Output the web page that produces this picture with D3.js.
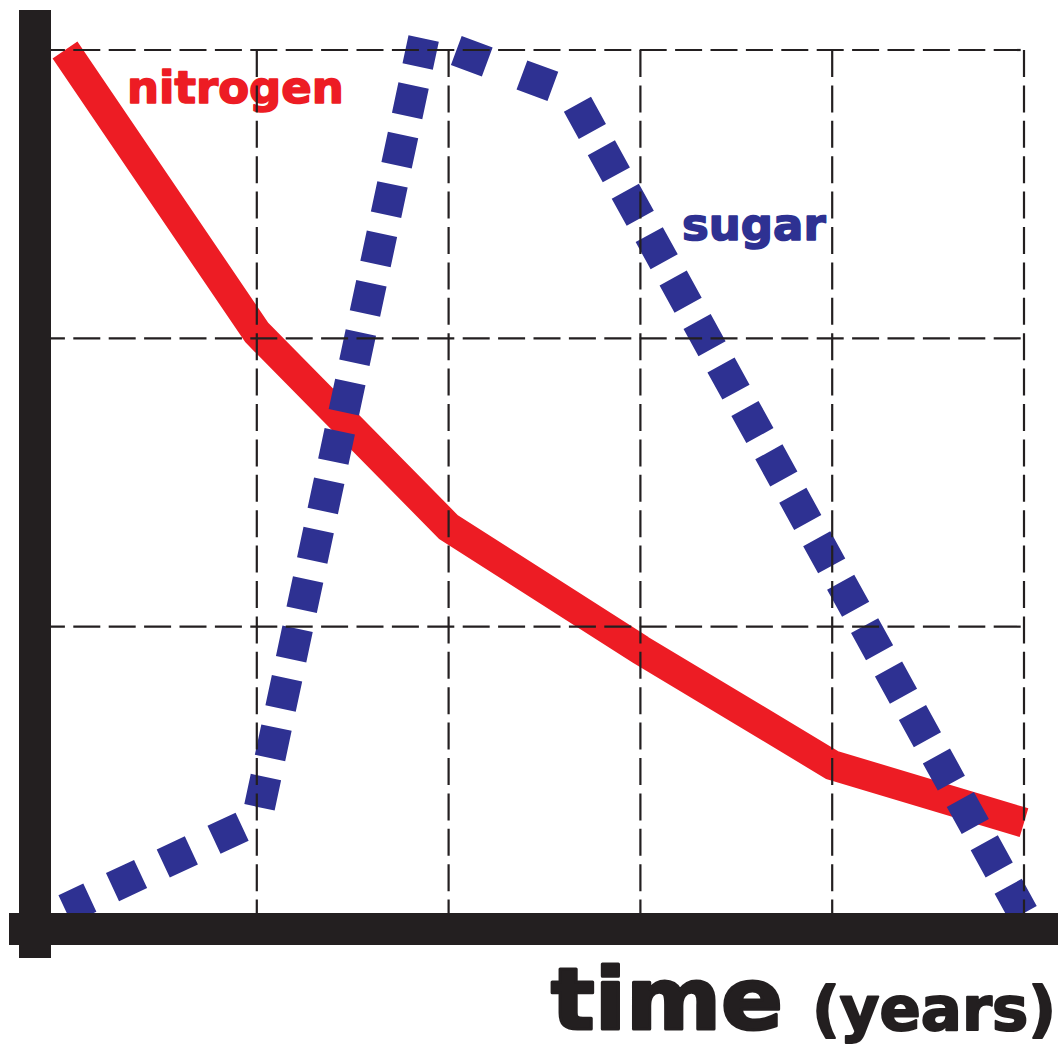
<!DOCTYPE html>
<html>
<head>
<meta charset="utf-8">
<script src="https://cdn.jsdelivr.net/npm/d3@7"></script>
<style>
  html, body { margin: 0; padding: 0; background: #fff; }
  svg { display: block; }
</style>
</head>
<body>
<svg id="chart" width="1060" height="1049"></svg>
<script>
// ---- data ----
const years        = [0, 1, 2, 3, 4, 5];
const nitrogen     = [3.0, 2.02, 1.345, 0.92, 0.52, 0.32];
const sugarYears   = [0, 1, 1.87, 2.64, 5];
const sugar        = [0.02, 0.33, 3.04, 2.85, 0.0];
const xGridTicks   = [1, 2, 3, 4, 5];
const yGridTicks   = [1, 2, 3];
const seriesLabels = ["nitrogen", "sugar"];
const axisLabel    = ["time", "(years)"];

// ---- styles ----
const RED = "#ED1C24", BLUE = "#2E3192", BLACK = "#231F20";
// dash layout per sugar segment (dash, gap, start of first dash)
const sugarDash = [
  { d: 31, g: 25,   s: -3.6 },
  { d: 31, g: 19.5, s: 12.8 },
  { d: 33, g: 37,   s: 34.8 },
  { d: 31, g: 18.6, s: 12.6 }
];

const svg = d3.select("#chart");
const x = d3.scaleLinear().domain([0, 5]).range([65, 1024]);
const y = d3.scaleLinear().domain([0, 3]).range([915, 50]);

function heavyText(sel, size, color, sw) {
  return sel.attr("font-family", "DejaVu Sans").attr("font-weight", "bold")
    .attr("font-size", size).attr("fill", color)
    .attr("stroke", color).attr("stroke-width", sw).attr("stroke-linejoin", "round");
}

// labels under everything
heavyText(svg.append("text").text(seriesLabels[0]).attr("x", 127).attr("y", 103), 45, RED, 1.6);
heavyText(svg.append("text").text(seriesLabels[1]).attr("x", 682).attr("y", 240), 45, BLUE, 1.6);

// nitrogen line
const line = d3.line().x(d => x(d[0])).y(d => y(d[1]));
svg.append("path")
  .attr("d", line(years.map((t, i) => [t, nitrogen[i]])))
  .attr("fill", "none").attr("stroke", RED)
  .attr("stroke-width", 30).attr("stroke-linejoin", "miter")
  .attr("stroke-miterlimit", 10).attr("stroke-linecap", "butt");

// sugar line, one path per segment (dashes aligned per segment)
const sPts = sugarYears.map((t, i) => [t, sugar[i]]);
d3.pairs(sPts).forEach((seg, i) => {
  const st = sugarDash[i];
  svg.append("path")
    .attr("d", line(seg))
    .attr("fill", "none").attr("stroke", BLUE)
    .attr("stroke-width", 31).attr("stroke-linecap", "butt")
    .attr("stroke-dasharray", st.d + "," + st.g)
    .attr("stroke-dashoffset", -st.s);
});

// grid (drawn on top of the lines)
const grid = svg.append("g").attr("stroke", BLACK).attr("stroke-width", 2.2)
  .attr("fill", "none").attr("stroke-dasharray", "27,8.4");
grid.selectAll("line.h").data(yGridTicks).join("line").attr("class", "h")
  .attr("x1", 35).attr("x2", x(5))
  .attr("y1", d => y(d)).attr("y2", d => y(d))
  .attr("stroke-dashoffset", -2.9);
grid.selectAll("line.v").data(xGridTicks).join("line").attr("class", "v")
  .attr("x1", d => x(d)).attr("x2", d => x(d))
  .attr("y1", y(3)).attr("y2", y(0));

// thick axes
svg.append("rect").attr("x", 19).attr("y", 10).attr("width", 32).attr("height", 948).attr("fill", BLACK);
svg.append("rect").attr("x", 9).attr("y", y(0) - 2).attr("width", 1049).attr("height", 32).attr("fill", BLACK);

// axis title
heavyText(svg.append("text").text(axisLabel[0]).attr("x", 551).attr("y", 1029)
  .attr("textLength", 232).attr("lengthAdjust", "spacingAndGlyphs"), 85, BLACK, 3);
heavyText(svg.append("text").text(axisLabel[1]).attr("x", 812).attr("y", 1030)
  .attr("textLength", 244).attr("lengthAdjust", "spacingAndGlyphs"), 60, BLACK, 2);
</script>
</body>
</html>
